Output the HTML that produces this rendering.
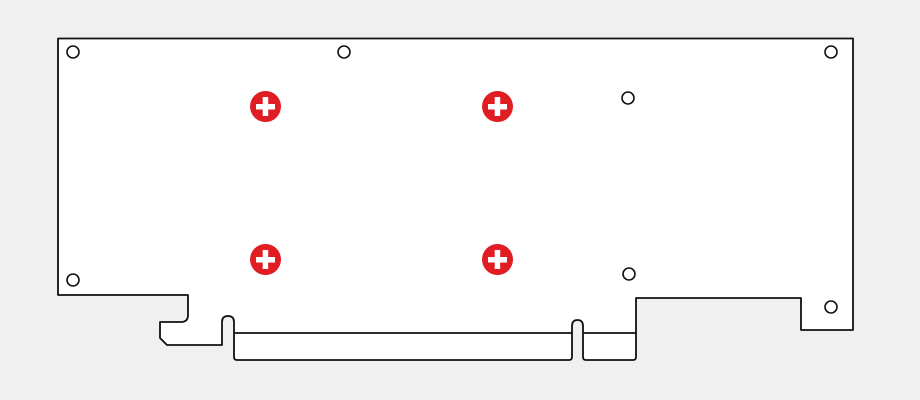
<!DOCTYPE html>
<html><head><meta charset="utf-8"><style>html,body{margin:0;padding:0;background:#f0f0f0}svg{display:block}</style></head>
<body>
<svg width="920" height="400" viewBox="0 0 920 400" xmlns="http://www.w3.org/2000/svg">
<rect width="920" height="400" fill="#f0f0f0"/>
<path d="M58,38.5 H853 V330 H801 V298 H636 V357 Q636,360 633,360 H586 Q583,360 583,357 V326 Q583,320 577.5,320 Q572,320 572,326 V357 Q572,360 569,360 H237 Q234,360 234,357 V322 Q234,316 228,316 Q222,316 222,322 V345 H167 L160,338 V322 H181 Q188,322 188,315 V295 H58 Z" fill="#fff" stroke="#111" stroke-width="1.8" stroke-linejoin="round"/>
<path d="M234,333 H572 M583,333 H636" stroke="#111" stroke-width="1.8" fill="none"/>
<g fill="none" stroke="#111" stroke-width="1.6">
<circle cx="73" cy="52" r="6"/><circle cx="344" cy="52" r="6"/><circle cx="831" cy="52" r="6"/>
<circle cx="628" cy="98" r="6"/><circle cx="629" cy="274" r="6"/>
<circle cx="73" cy="280" r="6"/><circle cx="831" cy="307" r="6"/>
</g>
<g fill="#e01d22">
<circle cx="265.5" cy="106.5" r="15.5"/><circle cx="497.5" cy="106.5" r="15.5"/>
<circle cx="265.5" cy="259.5" r="15.5"/><circle cx="497.5" cy="259.5" r="15.5"/>
</g>
<g fill="#fff">
<rect x="256" y="104" width="19" height="5.5"/><rect x="262.7" y="97" width="5.5" height="19"/>
<rect x="488" y="104" width="19" height="5.5"/><rect x="494.7" y="97" width="5.5" height="19"/>
<rect x="256" y="257" width="19" height="5.5"/><rect x="262.7" y="250" width="5.5" height="19"/>
<rect x="488" y="257" width="19" height="5.5"/><rect x="494.7" y="250" width="5.5" height="19"/>
</g>
</svg>
</body></html>
